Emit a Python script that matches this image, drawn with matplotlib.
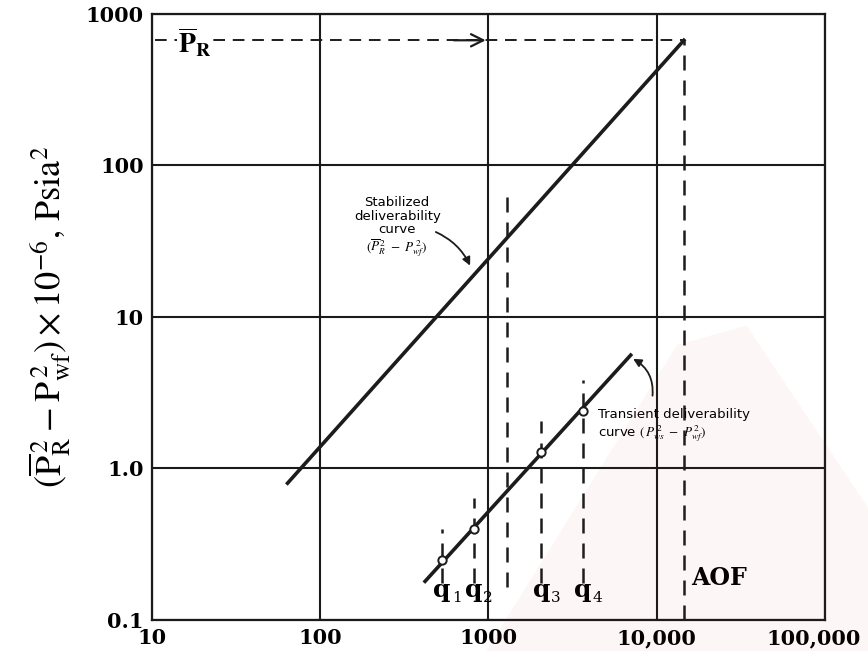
import numpy as np
import matplotlib
matplotlib.use('Agg')
import matplotlib.pyplot as plt
import matplotlib.transforms as mtransforms
from matplotlib.patches import Polygon

# caudal (Mscf/D) y caida de presion al cuadrado (psia^2 x 1e-6)
q_estab = [64, 14500]
dp_estab = [0.80, 670]
q_trans = [420, 7000]
dp_trans = [0.18, 5.6]
q_pruebas = [530, 815, 2065, 3630]
dp_pruebas = [0.25, 0.40, 1.28, 2.40]
etiquetas_q = ['1', '2', '3', '4']
pr_nivel = 670
aof = 14500
q_isocronal = 1280

x_ticks = [10, 100, 1000, 10000, 100000]
x_labels = ['10', '100', '1000', '10,000', '100,000']
y_ticks = [0.1, 1, 10, 100, 1000]
y_labels = ['0.1', '1.0', '10', '100', '1000']

plt.rcParams['font.family'] = ['Liberation Serif', 'DejaVu Serif']
plt.rcParams['mathtext.fontset'] = 'stix'

fig = plt.figure(figsize=(8.68, 6.51), dpi=100)

# marca de agua tenue al fondo
fig.patches.append(Polygon([[0.56, 0.0], [0.78, 0.47], [0.86, 0.50], [1.0, 0.22],
                            [1.0, 0.0]], closed=True, transform=fig.transFigure,
                           facecolor='#c0392b', alpha=0.04, edgecolor='none',
                           zorder=0))

ax = fig.add_axes([0.175, 0.0476, 0.7755, 0.931])
ax.patch.set_alpha(0)
ax.set_xscale('log')
ax.set_yscale('log')
ax.set_xlim(10, 100000)
ax.set_ylim(0.1, 1000)

ax.set_xticks(x_ticks)
ax.set_xticklabels(x_labels, fontsize=15, fontweight='bold', family='DejaVu Serif')
ax.set_yticks(y_ticks)
ax.set_yticklabels(y_labels, fontsize=15, fontweight='bold', family='DejaVu Serif')
ax.minorticks_off()
ax.tick_params(length=0, pad=6)
# la ultima etiqueta se corre un poco a la izquierda para que entre
ultima = ax.get_xticklabels()[-1]
ultima.set_transform(ultima.get_transform() +
                     mtransforms.ScaledTranslation(-0.11, 0, fig.dpi_scale_trans))
ax.grid(True, which='major', color='#1a1a1a', linewidth=1.5)
for s in ax.spines.values():
    s.set_linewidth(1.6)
    s.set_color('#1a1a1a')

ink = '#1c1c1c'
guiones = (0, (6, 4))

# curvas de entregabilidad
ax.plot(q_estab, dp_estab, color=ink, linewidth=2.6, zorder=4)
ax.plot(q_trans, dp_trans, color=ink, linewidth=2.6, zorder=4)

# presion promedio y AOF
ax.plot([10.5, aof], [pr_nivel, pr_nivel], color=ink, linewidth=1.4,
        linestyle=guiones, zorder=3)
ax.plot([aof, aof], [0.1, pr_nivel], color=ink, linewidth=1.8,
        linestyle=guiones, zorder=3)
ax.annotate('', xy=(1000, pr_nivel), xytext=(600, pr_nivel),
            arrowprops=dict(arrowstyle='->', color=ink, lw=1.6,
                            mutation_scale=22))
ax.text(18, pr_nivel * 0.97, r'$\overline{\mathbf{P}}_{\mathbf{R}}$',
        fontsize=20, va='center', ha='center',
        bbox=dict(facecolor='white', edgecolor='none', pad=1))
ax.text(aof * 1.1, 0.19, 'AOF', fontsize=17, fontweight='bold',
        family='DejaVu Serif', va='center', ha='left')

# lineas de las pruebas
for q, dp, et in zip(q_pruebas, dp_pruebas, etiquetas_q):
    ax.plot([q, q], [0.175, dp * 1.6], color=ink, linewidth=1.8,
            linestyle=guiones, zorder=3)
    ax.text(q, 0.158, 'q', fontsize=18, fontweight='bold',
            family='DejaVu Serif', ha='center', va='center')
    ax.annotate(et, xy=(q, 0.158), xytext=(7, -6), textcoords='offset points',
                fontsize=11, family='DejaVu Serif', ha='left', va='center')
ax.plot(q_pruebas, dp_pruebas, 'o', markersize=6, markerfacecolor='white',
        markeredgecolor=ink, markeredgewidth=1.4, zorder=5)

ax.plot([q_isocronal, q_isocronal], [0.165, 68], color=ink, linewidth=1.8,
        linestyle=guiones, zorder=3)

# anotaciones
ax.text(287, 39, 'Stabilized\ndeliverability\ncurve\n' +
        r'$(\overline{P}_R^{\,2}\ -\ P_{wf}^{\,2})$',
        family='DejaVu Sans', fontsize=9.5, ha='center', va='center',
        linespacing=1.05)
ax.annotate('', xy=(790, 21), xytext=(470, 37),
            arrowprops=dict(arrowstyle='-|>', color=ink, lw=1.3,
                            connectionstyle='arc3,rad=-0.2',
                            mutation_scale=12))
ax.text(4500, 1.9, 'Transient deliverability\ncurve ' +
        r'$(\,P_{ws}^{\,2}\ -\ P_{wf}^{\,2})$',
        family='DejaVu Sans', fontsize=9.5, ha='left', va='center',
        linespacing=1.2)
ax.annotate('', xy=(7000, 5.4), xytext=(9400, 2.9),
            arrowprops=dict(arrowstyle='-|>', color=ink, lw=1.3,
                            connectionstyle='arc3,rad=0.35',
                            mutation_scale=12))

ax.set_ylabel(r'$(\overline{\mathrm{P}}_{\mathrm{R}}^{\,2}-\mathrm{P}_{\mathrm{wf}}^{\,2})'
              r'\times 10^{-6},\, \mathrm{Psia}^{2}$', fontsize=26, labelpad=10)

fig.savefig('out.png', dpi=100)
